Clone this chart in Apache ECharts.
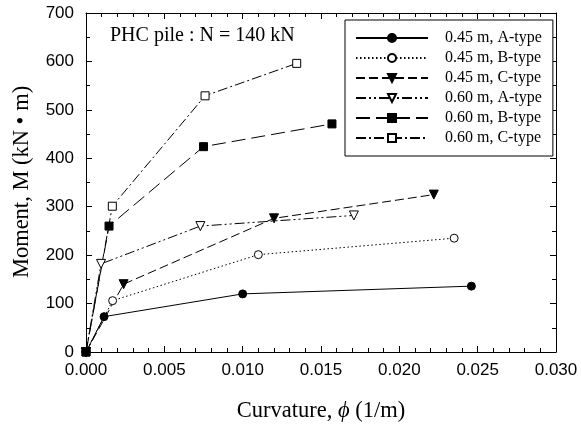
<!DOCTYPE html>
<html>
<head>
<meta charset="utf-8">
<script src="https://cdn.jsdelivr.net/npm/echarts@6/dist/echarts.min.js"></script>
<style>
  html, body { margin: 0; padding: 0; background: #fff; }
  #chart { width: 581px; height: 428px; }
</style>
</head>
<body>
<div id="chart"></div>
<script>
// Moment–curvature test results, PHC pile under axial load N = 140 kN
const seriesNames = [
  '0.45 m, A-type', '0.45 m, B-type', '0.45 m, C-type',
  '0.60 m, A-type', '0.60 m, B-type', '0.60 m, C-type'
];
const curvature045A = [0, 0.00115, 0.0100, 0.0246];
const moment045A    = [0, 73, 120, 136];
const curvature045B = [0, 0.0017, 0.0110, 0.0235];
const moment045B    = [0, 106, 201, 235];
const curvature045C = [0, 0.0024, 0.0120, 0.0222];
const moment045C    = [0, 140, 276, 325];
const curvature060A = [0, 0.00096, 0.0073, 0.0171];
const moment060A    = [0, 182, 260, 282];
const curvature060B = [0, 0.00147, 0.0075, 0.0157];
const moment060B    = [0, 260, 424, 471];
const curvature060C = [0, 0.00168, 0.0076, 0.01345];
const moment060C    = [0, 301, 529, 596];

const xTicks = ['0.000', '0.005', '0.010', '0.015', '0.020', '0.025', '0.030'];
const yTicks = [0, 100, 200, 300, 400, 500, 600, 700];

const curv = [curvature045A, curvature045B, curvature045C, curvature060A, curvature060B, curvature060C];
const mom  = [moment045A, moment045B, moment045C, moment060A, moment060B, moment060C];

// line dash / symbol styling per specimen
const styles = [
  { dash: 'solid',              symbol: 'circle',   fill: '#000', rot: 0,   size: 8 },
  { dash: [1.5, 2.5],           symbol: 'circle',   fill: '#fff', rot: 0,   size: 8 },
  { dash: [9, 4],               symbol: 'triangle', fill: '#000', rot: 180, size: 9 },
  { dash: [10, 3, 2, 3, 2, 3],  symbol: 'triangle', fill: '#fff', rot: 180, size: 9 },
  { dash: [14, 6],              symbol: 'rect',     fill: '#000', rot: 0,   size: 8 },
  { dash: [10, 3, 2, 3],        symbol: 'rect',     fill: '#fff', rot: 0,   size: 8 }
];

const series = seriesNames.map((name, i) => ({
  name: name,
  type: 'line',
  xAxisIndex: 0,
  yAxisIndex: 0,
  data: curv[i].map((c, k) => [c, mom[i][k]]),
  symbol: styles[i].symbol,
  symbolSize: styles[i].size,
  symbolRotate: styles[i].rot,
  showAllSymbol: true,
  z: 10 - i,
  lineStyle: { color: '#000', width: 1, type: styles[i].dash },
  itemStyle: { color: styles[i].fill, borderColor: '#000', borderWidth: 1, opacity: 1 },
  emphasis: { disabled: true },
  animation: false
}));

const serif = 'Liberation Serif, Times New Roman, serif';
const sans = 'Liberation Sans, Arial, sans-serif';

const axisCommon = {
  axisLine: { show: true, onZero: false, lineStyle: { color: '#000', width: 1 } },
  axisTick: { show: true, inside: true, length: 6, lineStyle: { color: '#000', width: 1 } },
  minorTick: { show: true, splitNumber: 5, length: 4, lineStyle: { color: '#000', width: 1 } },
  splitLine: { show: false }
};

const chart = echarts.init(document.getElementById('chart'), null, { renderer: 'canvas' });
chart.setOption({
  animation: false,
  backgroundColor: '#fff',
  grid: { left: 86, right: 25, top: 13, bottom: 76 },
  xAxis: [
    Object.assign({}, axisCommon, {
      type: 'value', min: 0, max: 0.03, interval: 0.005, position: 'bottom',
      axisLabel: {
        margin: 10, fontFamily: sans, fontSize: 17, color: '#000',
        formatter: (v) => xTicks[Math.round(v / 0.005)]
      }
    }),
    Object.assign({}, axisCommon, {
      type: 'value', min: 0, max: 0.03, interval: 0.005, position: 'top',
      axisLabel: { show: false }
    })
  ],
  yAxis: [
    Object.assign({}, axisCommon, {
      type: 'value', min: 0, max: 700, interval: 100, position: 'left',
      minorTick: Object.assign({}, axisCommon.minorTick, { splitNumber: 2 }),
      axisLabel: {
        margin: 12, fontFamily: sans, fontSize: 17, color: '#000',
        formatter: (v) => String(yTicks[Math.round(v / 100)])
      }
    }),
    Object.assign({}, axisCommon, {
      type: 'value', min: 0, max: 700, interval: 100, position: 'right',
      minorTick: Object.assign({}, axisCommon.minorTick, { splitNumber: 2 }),
      axisLabel: { show: false }
    })
  ],
  legend: {
    orient: 'vertical',
    left: 345,
    top: 20,
    padding: [10, 11, 10, 10],
    itemWidth: 72,
    itemHeight: 10,
    itemGap: 4,
    borderColor: '#000',
    borderWidth: 1,
    backgroundColor: '#fff',
    selectedMode: false,
    data: seriesNames,
    textStyle: { fontFamily: serif, fontSize: 16, lineHeight: 16, color: '#000', padding: [0, 0, 0, 12] }
  },
  graphic: [
    {
      type: 'text', left: 110, top: 26,
      style: { text: 'PHC pile : N = 140 kN', font: '20px ' + serif, fill: '#000' }
    },
    {
      type: 'text', x: 321, y: 411,
      style: {
        text: '{r|Curvature, }{i|ϕ}{r| (1/m)}',
        align: 'center', verticalAlign: 'middle',
        rich: {
          r: { font: '22.5px ' + serif, fill: '#000' },
          i: { font: 'italic 22.5px ' + serif, fill: '#000' }
        }
      }
    },
    {
      type: 'text', x: 22, y: 182, rotation: Math.PI / 2,
      style: {
        text: 'Moment, M (kN • m)',
        align: 'center', verticalAlign: 'middle',
        font: '22.5px ' + serif, fill: '#000'
      }
    }
  ],
  series: series
});
</script>
</body>
</html>
